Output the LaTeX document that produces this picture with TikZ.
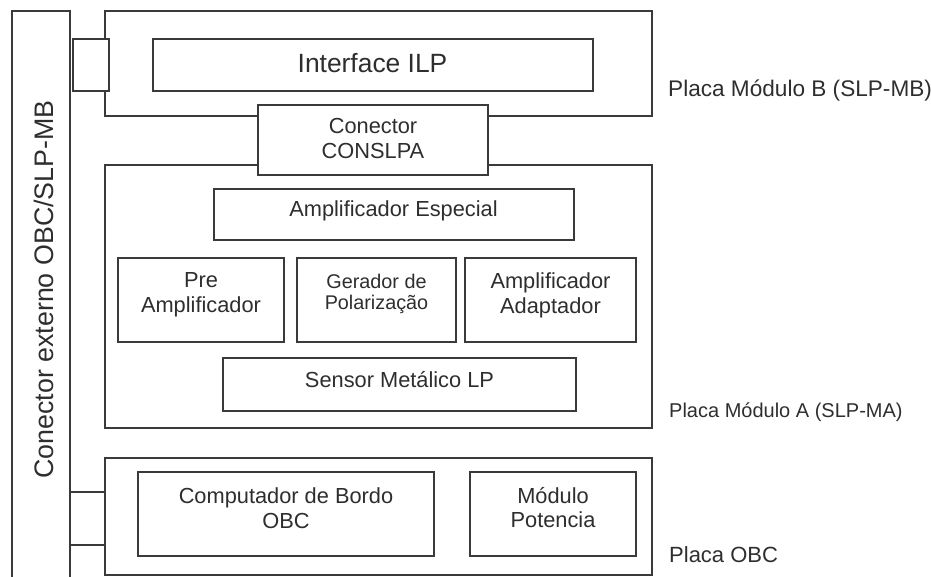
\documentclass[tikz,border=0pt]{standalone}
\usepackage{fontspec}
\setmainfont{Liberation Sans}
\definecolor{ln}{HTML}{3A3A3A}
\definecolor{tx}{HTML}{2E2E2E}
\begin{document}
\begin{tikzpicture}[x=1pt,y=-1pt,
  bx/.style={draw=ln, line width=1.6pt, fill=white, inner sep=0pt},
  tt/.style={text=tx, align=center, inner sep=0pt, font=\fontsize{21.8}{24.5}\selectfont},
  lb/.style={text=tx, inner sep=0pt, anchor=base west, font=\fontsize{21}{24}\selectfont}]
\useasboundingbox (0,0) rectangle (931,577);
% external connector
\draw[ln, line width=1.6pt] (12,590) -- (12,11) -- (70,11) -- (70,590);
\node[text=tx, inner sep=0pt, rotate=90, anchor=base, font=\fontsize{26.8}{30}\selectfont] (extt) at (53,289.5) {Conector externo OBC/SLP-MB};
% Module B
\node[bx, minimum width=547, minimum height=105] (mb) at (378.5,63.5) {};
\node[bx, minimum width=36, minimum height=52] (mbc) at (91,65) {};
\node[bx, minimum width=440, minimum height=52] (ilp) at (373,65) {};
\node[text=tx, inner sep=0pt, anchor=base, font=\fontsize{26.4}{30}\selectfont] (ilpt) at (372.5,73) {Interface ILP};
% Module A
\node[bx, minimum width=547, minimum height=263] (ma) at (378.5,296.5) {};
\node[bx, minimum width=230, minimum height=70] (cons) at (373,140) {};
\node[tt, anchor=north] (const) at (373,118.5) {Conector\\CONSLPA};
\node[bx, minimum width=360, minimum height=51] (ae) at (394,214.5) {};
\node[tt, anchor=base] (aet) at (393.5,217) {Amplificador Especial};
\node[bx, minimum width=166, minimum height=84] (pre) at (201,300) {};
\node[tt, anchor=north] (pret) at (201,272.5) {Pre\\Amplificador};
\node[bx, minimum width=159, minimum height=84] (ger) at (376.5,300) {};
\node[tt, anchor=north, font=\fontsize{19.8}{21.5}\selectfont] (gert) at (376.5,273.5) {Gerador de\\Polarização};
\node[bx, minimum width=171, minimum height=84] (ad) at (550.5,300) {};
\node[tt, anchor=north] (adt) at (550.5,273) {Amplificador\\Adaptador};
\node[bx, minimum width=353, minimum height=53] (sen) at (399.5,384.5) {};
\node[tt, anchor=base] (sent) at (399.5,387) {Sensor Metálico LP};
% OBC
\node[bx, minimum width=547, minimum height=117] (obc) at (378.5,516.5) {};
\node[bx, minimum width=296, minimum height=84] (comp) at (286,514) {};
\node[tt, anchor=north] (compt) at (286,487.5) {Computador de Bordo\\OBC};
\node[bx, minimum width=166, minimum height=84] (pot) at (553,514) {};
\node[tt, anchor=north] (pott) at (553,487) {Módulo\\Potencia};
\coordinate (c1) at (70,492);
\coordinate (c2) at (70,545);
\draw[ln, line width=1.6pt] (c1) -- (c1 -| obc.west);
\draw[ln, line width=1.6pt] (c2) -- (c2 -| obc.west);
% labels
\node[lb, font=\fontsize{22.6}{25}\selectfont] (lmb) at (668,97) {Placa Módulo B (SLP-MB)};
\node[lb, font=\fontsize{20}{24}\selectfont] (lma) at (669,417) {Placa Módulo A (SLP-MA)};
\node[lb, font=\fontsize{22}{25}\selectfont] (lobc) at (669,562) {Placa OBC};
\end{tikzpicture}
\end{document}
